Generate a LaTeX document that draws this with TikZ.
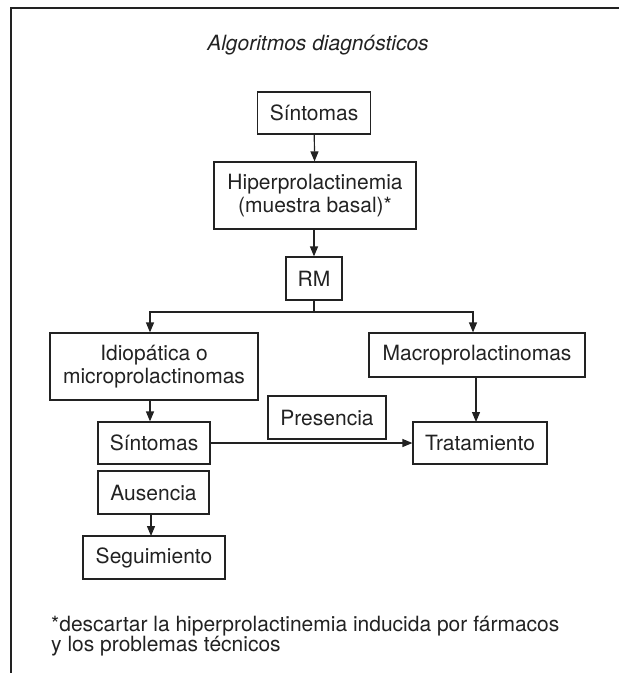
\documentclass[tikz,border=0pt]{standalone}
\usepackage{fontspec}
\setmainfont{TeX Gyre Heros}
\usetikzlibrary{arrows.meta}
\definecolor{ink}{HTML}{222222}
\begin{document}
\begin{tikzpicture}[x=1pt,y=-1pt,
  box/.style={draw=ink,line width=1.2pt,rectangle,inner sep=0pt,align=center,
    text=ink,font=\fontsize{21}{23}\selectfont},
  arr/.style={draw=ink,line width=1.2pt,-{Triangle[length=10pt,width=8pt]}},
  lin/.style={draw=ink,line width=1.2pt}]
\useasboundingbox (0,0) rectangle (619,673);
\draw[ink,line width=2pt] (11,673) -- (11,8) -- (619,8);
\node[text=ink,font=\fontsize{21}{23}\selectfont\itshape,anchor=base] (title) at (318,50) {Algoritmos diagnósticos};
\node[box,minimum width=113pt,minimum height=42pt] (s1) at (314,113) {Síntomas};
\node[box,minimum width=202pt,minimum height=67pt] (hp) at (315,195.5) {Hiperprolactinemia\\(muestra basal)*};
\node[box,minimum width=56pt,minimum height=43pt] (rm) at (314,278.5) {RM};
\node[box,minimum width=208pt,minimum height=67pt] (idio) at (154,366.5) {Idiopática o\\microprolactinomas};
\node[box,minimum width=216pt,minimum height=44pt] (macro) at (477,355) {Macroprolactinomas};
\node[box,minimum width=118pt,minimum height=43pt] (pres) at (327,417.5) {Presencia};
\node[box,minimum width=112pt,minimum height=42pt] (s2) at (154,443) {Síntomas};
\node[box,minimum width=134pt,minimum height=42pt] (trat) at (480,443) {Tratamiento};
\node[box,minimum width=111pt,minimum height=43pt] (aus) at (153.5,492.5) {Ausencia};
\node[box,minimum width=142pt,minimum height=43pt] (seg) at (154,557.5) {Seguimiento};
\node[text=ink,font=\fontsize{21}{20}\selectfont,align=left,anchor=north west,inner sep=0pt] (note) at (51,616)
  {*descartar la hiperprolactinemia inducida por fármacos\\y los problemas técnicos};
\coordinate (L) at (150,312);
\coordinate (R) at (473,312);
\coordinate (M) at (314,312);
\draw[arr] (s1) -- (hp);
\draw[arr] (hp.south -| s1) -- (rm.north -| s1);
\draw[lin] (rm.south -| s1) -- (M);
\draw[arr] (M) -- (L) -- (L |- idio.north);
\draw[arr] (M) -- (R) -- (R |- macro.north);
\draw[arr] (L |- idio.south) -- (L |- s2.north);
\draw[arr] (476,377) -- (476,422);
\draw[arr] (s2.east) -- (trat.west);
\draw[arr] (151,514) -- (151,536);
\end{tikzpicture}
\end{document}
